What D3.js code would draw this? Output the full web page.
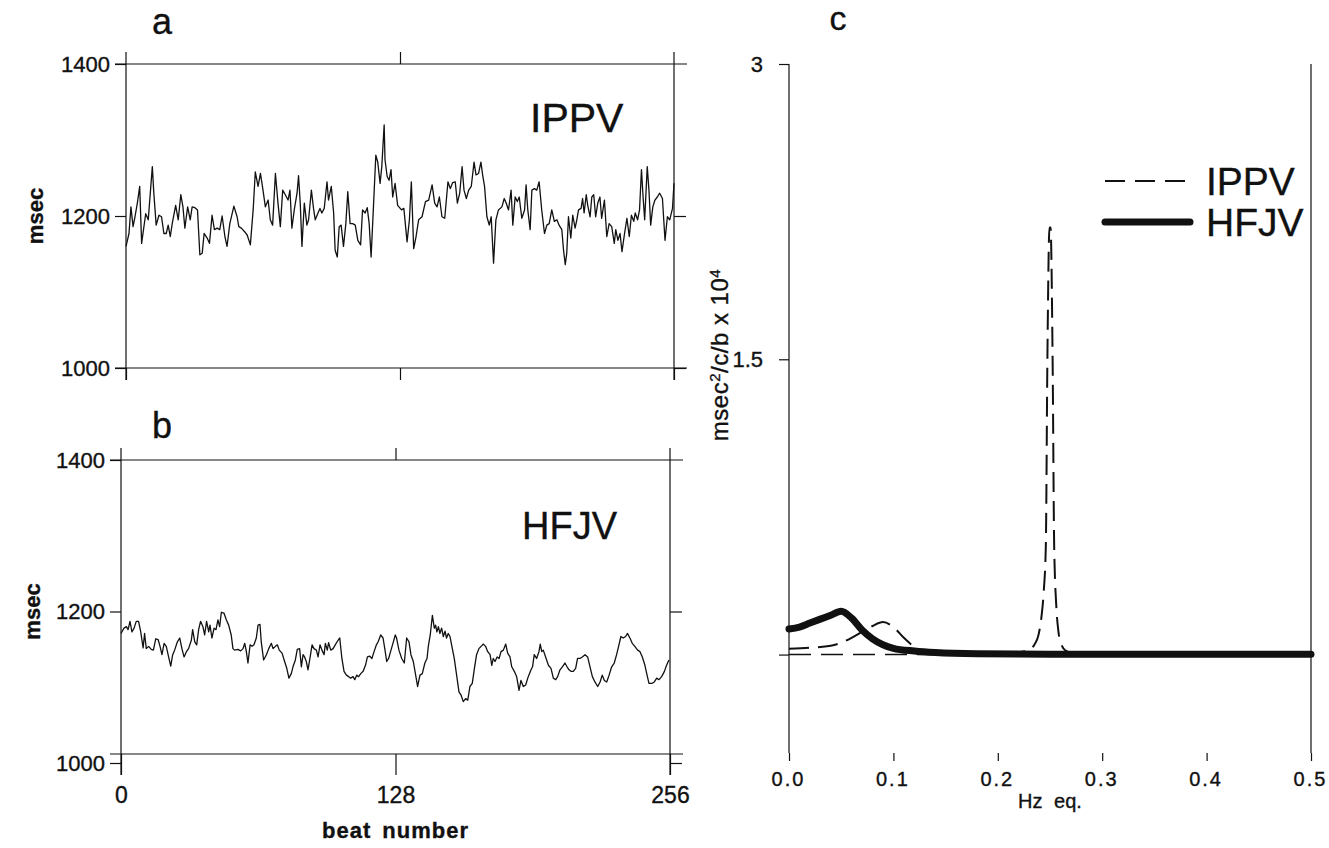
<!DOCTYPE html>
<html>
<head>
<meta charset="utf-8">
<script src="https://cdn.jsdelivr.net/npm/d3@7"></script>
<style>
  body { margin: 0; background: #fff; }
  svg text { font-family: "Liberation Sans", Arial, sans-serif; fill: #111; stroke: #111; stroke-width: 0.35px; }
</style>
</head>
<body>
<div id="chart"></div>
<script>
// beat-to-beat intervals (IPPV) and b (HFJV)
var ippvBeat = [0,1.4,2.3,3.3,4.2,5.3,6.4,7.3,9.2,10.4,12.3,13.0,14.1,15.4,16.6,17.7,18.8,19.7,20.7,21.6,23.2,24.4,25.6,26.6,27.5,28.8,30.0,30.9,32.2,33.4,34.5,35.6,36.5,37.9,39.0,40.2,41.3,42.6,43.8,44.9,46.2,47.2,48.5,50.4,51.9,52.7,53.9,55.5,56.6,58.1,59.4,60.4,61.7,62.8,63.9,65.1,66.4,67.4,68.5,69.8,71.0,72.1,73.2,74.4,75.7,76.6,77.5,78.6,79.9,80.6,81.4,82.2,83.3,84.5,85.3,86.6,87.6,88.4,89.7,90.6,91.5,92.6,93.9,94.6,95.9,97.0,97.7,98.7,99.6,100.5,101.6,102.7,103.6,104.7,105.9,107.1,108.3,109.6,110.5,111.7,112.7,113.6,114.5,115.6,116.7,117.6,118.7,119.5,120.6,121.0,122.0,122.9,123.8,124.6,125.7,126.9,128.7,129.8,131.3,132.4,133.3,134.4,135.5,136.7,138.3,139.9,141.4,143.0,144.2,145.3,146.4,147.6,148.9,150.4,151.5,152.6,153.8,154.8,155.9,157.0,157.9,159.0,160.1,161.3,162.6,163.5,164.7,165.8,166.6,167.5,168.6,169.7,170.6,171.7,172.8,174.0,175.6,176.7,177.6,178.7,179.9,180.7,181.8,182.8,183.7,184.9,186.2,186.9,187.7,188.8,189.6,190.8,191.9,193.0,194.2,195.5,196.6,197.7,198.9,200.1,201.3,202.3,203.6,204.4,205.2,205.9,206.7,207.8,208.7,209.8,210.6,211.4,212.6,213.3,214.0,215.0,215.7,216.8,217.6,218.5,219.4,220.4,221.4,222.2,223.5,224.6,225.7,226.9,228.1,228.8,229.8,230.8,231.7,232.9,234.0,235.1,236.1,237.2,237.9,239.0,239.9,240.8,241.6,242.3,243.5,244.3,245.1,246.1,247.1,248.2,249.3,250.6,251.8,252.9,254.0,255.3,256.0];
var ippvMsec = [1160,1177,1212,1186,1199,1217,1239,1164,1203,1195,1265,1230,1188,1201,1199,1177,1177,1188,1173,1190,1214,1195,1228,1212,1184,1212,1195,1212,1211,1208,1149,1151,1177,1171,1164,1201,1182,1184,1182,1200,1173,1160,1190,1213,1199,1186,1184,1179,1175,1162,1208,1258,1239,1256,1236,1212,1221,1195,1188,1256,1217,1186,1234,1228,1221,1234,1184,1208,1230,1253,1217,1160,1217,1188,1195,1234,1210,1195,1204,1210,1204,1210,1245,1221,1239,1204,1155,1146,1186,1188,1160,1190,1232,1190,1190,1188,1168,1162,1208,1204,1211,1190,1146,1212,1280,1271,1243,1265,1320,1274,1252,1247,1261,1225,1243,1214,1208,1210,1166,1195,1245,1157,1173,1195,1199,1219,1221,1241,1217,1212,1225,1199,1197,1245,1236,1244,1245,1217,1230,1265,1234,1223,1234,1239,1271,1254,1256,1271,1254,1239,1199,1188,1199,1138,1195,1208,1212,1223,1217,1208,1234,1188,1225,1219,1225,1197,1208,1241,1208,1182,1234,1236,1234,1245,1208,1177,1188,1190,1208,1193,1195,1188,1182,1155,1136,1151,1199,1171,1201,1184,1195,1208,1210,1223,1204,1228,1214,1199,1225,1228,1199,1217,1225,1197,1221,1173,1190,1186,1164,1182,1168,1177,1153,1177,1197,1173,1201,1193,1204,1195,1208,1261,1223,1195,1265,1234,1188,1212,1221,1225,1230,1223,1168,1199,1195,1210,1243];

var hfjvBeat = [0,1.4,2.5,3.3,4.2,5.1,6.1,7.1,8.2,9.2,10.3,11.0,11.8,12.9,14.1,15.1,16.2,17.3,18.2,19.1,20.1,21.1,22.2,23.2,24.1,25.0,26.3,27.4,28.4,29.4,30.5,31.5,32.8,33.4,34.4,35.3,36.2,37.1,38.2,39.0,39.9,40.9,41.5,42.4,43.4,44.3,45.2,46.0,46.8,48.0,49.1,50.2,51.4,52.2,53.0,54.5,55.8,56.9,57.7,58.4,59.2,60.2,61.1,62.0,63.1,63.9,64.8,65.4,66.5,67.8,68.9,70.1,70.9,72.0,72.9,73.8,75.1,76.3,77.3,78.3,79.4,80.2,81.3,82.2,83.3,84.1,84.9,85.6,86.4,87.2,88.1,89.1,90.0,91.1,91.9,92.8,93.7,94.7,95.3,96.2,96.8,97.8,98.9,99.9,101.2,102.0,103.0,104.0,105.1,106.2,107.1,108.2,109.0,109.9,110.8,111.8,112.9,114.0,114.9,116.0,117.0,118.0,119.1,119.9,121.1,122.2,123.0,123.9,124.8,125.7,126.8,127.9,128.5,129.6,130.9,132.1,133.2,134.3,135.2,136.3,137.4,138.3,139.4,140.5,141.7,142.7,143.3,144.2,145.2,146.1,146.7,147.3,148.0,148.7,149.5,150.3,151.1,151.8,152.6,153.4,154.5,155.4,156.5,157.6,158.5,159.6,160.7,161.7,162.7,163.8,164.8,165.8,166.9,167.9,169.0,170.0,171.0,172.1,172.9,173.6,174.4,175.4,176.3,177.2,178.3,179.4,180.3,181.4,182.2,183.4,184.5,185.6,186.5,187.6,188.7,189.9,191.2,191.9,192.7,193.8,194.9,195.5,196.2,196.9,198.0,199.3,200.5,201.6,202.7,203.6,204.7,205.8,207.0,208.0,208.9,209.8,210.9,212.0,212.9,214.0,215.1,216.4,217.6,218.7,219.8,221.0,222.3,223.4,224.4,225.4,226.5,227.6,228.8,230.0,231.1,232.2,233.1,234.2,235.3,236.2,237.3,238.4,239.6,240.9,242.0,243.1,244.3,245.3,246.2,247.5,248.7,249.8,250.9,252.1,253.4,254.4,255.5];
var hfjvMsec = [1171,1178,1180,1176,1187,1173,1178,1187,1187,1173,1152,1171,1151,1154,1150,1149,1164,1163,1154,1143,1158,1154,1140,1128,1143,1149,1160,1165,1151,1140,1147,1151,1162,1176,1160,1156,1176,1187,1180,1169,1187,1173,1182,1165,1178,1176,1189,1180,1199,1198,1189,1182,1169,1151,1149,1150,1148,1151,1158,1148,1132,1156,1154,1156,1165,1182,1183,1160,1136,1143,1151,1158,1151,1154,1156,1149,1145,1134,1125,1112,1118,1127,1136,1150,1151,1127,1143,1140,1134,1123,1138,1156,1151,1149,1140,1156,1149,1143,1158,1149,1159,1149,1151,1156,1162,1165,1138,1121,1116,1114,1112,1114,1110,1116,1114,1118,1121,1129,1140,1141,1138,1147,1156,1160,1169,1165,1151,1134,1138,1147,1158,1169,1165,1149,1138,1132,1165,1160,1143,1134,1116,1101,1116,1118,1132,1138,1154,1169,1195,1178,1182,1173,1180,1171,1178,1167,1174,1165,1171,1167,1151,1138,1116,1094,1090,1081,1085,1083,1101,1105,1125,1143,1151,1154,1157,1154,1147,1143,1129,1138,1134,1140,1138,1147,1149,1157,1145,1140,1127,1121,1114,1096,1109,1101,1103,1114,1123,1127,1143,1138,1147,1157,1147,1149,1140,1129,1125,1112,1110,1114,1123,1127,1132,1127,1123,1121,1121,1125,1138,1138,1140,1143,1140,1127,1114,1107,1101,1107,1116,1109,1107,1116,1127,1132,1143,1156,1167,1165,1167,1171,1165,1158,1154,1149,1147,1140,1129,1116,1105,1105,1107,1112,1110,1114,1121,1129,1136];

// power spectra, panel c
var ippvHz  = [0,0.02,0.04,0.05,0.06,0.07,0.08,0.09,0.10,0.11,0.12,0.13,0.15,0.20,0.229,0.235,0.239,0.242,0.244,0.246,0.2475,0.2495,0.2505,0.2525,0.254,0.256,0.258,0.261,0.265,0.27,0.30,0.5];
var ippvPow = [0.03,0.035,0.045,0.06,0.085,0.115,0.145,0.165,0.14,0.085,0.04,0.018,0.008,0.004,0.02,0.05,0.1,0.2,0.32,0.55,1.5,2.17,2.17,1.5,0.55,0.25,0.12,0.05,0.02,0.01,0.004,0.002];
var hfjvHz  = [0,0.01,0.02,0.03,0.04,0.05,0.06,0.07,0.08,0.09,0.10,0.12,0.14,0.18,0.25,0.5];
var hfjvPow = [0.13,0.14,0.16,0.18,0.2,0.22,0.185,0.125,0.08,0.05,0.032,0.018,0.01,0.004,0.002,0.002];

var msecTicks = [1000, 1200, 1400];
var beatTicks = [0, 128, 256];
var hzTicks = [0, 0.1, 0.2, 0.3, 0.4, 0.5];
var powTicks = [0, 1.5, 3];

const width = 1329, height = 848;
const ink = "#111";

const svg = d3.select("#chart").append("svg")
    .attr("width", width)
    .attr("height", height);

function line(g, x1, y1, x2, y2, w) {
    return g.append("line")
        .attr("x1", x1).attr("y1", y1).attr("x2", x2).attr("y2", y2)
        .attr("stroke", ink).attr("stroke-width", w || 1.2);
}

function styleAxis(sel, size) {
    sel.select(".domain").remove();
    sel.selectAll(".tick line").attr("stroke", ink).attr("stroke-width", 1.2);
    sel.selectAll(".tick text")
        .attr("fill", ink)
        .style("font-size", size + "px")
        .style("font-family", "'Liberation Sans', Arial, sans-serif");
}

// draw one time-series panel
function timePanel(opt) {
    const g = svg.append("g");
    const x = d3.scaleLinear().domain([0, 256]).range([opt.left, opt.right]);
    const y = d3.scaleLinear().domain([1000, 1400]).range([opt.bottom, opt.top]);

    // frame
    line(g, opt.left - 11, y(1400), opt.right + 13, y(1400));
    line(g, opt.left - 11, opt.frameBottom, opt.right + 13, opt.frameBottom);
    line(g, opt.left, y(1400) - 12, opt.left, opt.bottom + 12);
    line(g, opt.right, y(1400) - 12, opt.right, opt.bottom + 12);

    g.append("g").attr("transform", `translate(${opt.left},0)`)
        .call(d3.axisLeft(y).tickValues(msecTicks).tickSize(11).tickPadding(5).tickFormat(d3.format("d")))
        .call(s => styleAxis(s, 22));
    g.append("g").attr("transform", `translate(${opt.right},0)`)
        .call(d3.axisRight(y).tickValues([1200, 1000]).tickSize(12).tickFormat(""))
        .call(s => styleAxis(s, 22));
    g.append("g").attr("transform", `translate(0,${y(1400)})`)
        .call(d3.axisTop(x).tickValues([128]).tickSize(12).tickFormat(""))
        .call(s => styleAxis(s, 22));
    g.append("g").attr("transform", `translate(0,${opt.frameBottom})`)
        .call(d3.axisBottom(x).tickValues(beatTicks).tickSize(opt.bottom + 12 - opt.frameBottom)
            .tickPadding(opt.showX ? 12 : 0).tickFormat(opt.showX ? d3.format("d") : ""))
        .call(s => styleAxis(s, 23));

    const path = d3.line().x(d => x(d[0])).y(d => y(d[1]));
    g.append("path")
        .datum(opt.beats.map((b, i) => [b, opt.values[i]]))
        .attr("d", path)
        .attr("fill", "none")
        .attr("stroke", ink)
        .attr("stroke-width", 1.3)
        .attr("stroke-linejoin", "round");

    g.append("text").attr("x", opt.letterX).attr("y", opt.letterY)
        .style("font-size", "36px").text(opt.letter);
    g.append("text").attr("x", opt.labelX).attr("y", opt.labelY)
        .style("font-size", opt.labelSize + "px").text(opt.label);
    g.append("text")
        .attr("transform", `translate(${opt.msecX},${y(1200)}) rotate(-90)`)
        .attr("text-anchor", "middle")
        .style("font-size", "22px").style("font-weight", "bold")
        .text("msec");
    return x;
}

timePanel({left: 126, right: 674, top: 64, bottom: 368, frameBottom: 368,
    beats: ippvBeat, values: ippvMsec, letter: "a", letterX: 152, letterY: 34,
    label: "IPPV", labelX: 530, labelY: 132, labelSize: 41, msecX: 43, showX: false});

const xB = timePanel({left: 121, right: 670, top: 460, bottom: 763, frameBottom: 754,
    beats: hfjvBeat, values: hfjvMsec, letter: "b", letterX: 152, letterY: 438,
    label: "HFJV", labelX: 522, labelY: 539, labelSize: 38, msecX: 40, showX: true});

svg.append("text").attr("x", xB(128)).attr("y", 838)
    .attr("text-anchor", "middle")
    .style("font-size", "22px").style("font-weight", "bold").style("letter-spacing", "1px")
    .style("word-spacing", "4px")
    .text("beat number");

// spectrum panel
const gc = svg.append("g");
const xC = d3.scaleLinear().domain([0, 0.5]).range([789, 1311]);
const yC = d3.scaleLinear().domain([-0.5, 3]).range([753, 64]);

line(gc, xC(0), yC(3), xC(0), yC(-0.5));
line(gc, xC(0.5), yC(3), xC(0.5), yC(-0.5));

gc.append("g").attr("transform", `translate(${xC(0)},0)`)
    .call(d3.axisLeft(yC).tickValues(powTicks).tickSize(10).tickPadding(16)
        .tickFormat(d => d === 0 ? "" : String(d)))
    .call(s => styleAxis(s, 22));
gc.append("g").attr("transform", `translate(0,${yC(-0.5)})`)
    .call(d3.axisBottom(xC).tickValues(hzTicks).tickSize(8).tickPadding(11).tickFormat(d3.format(".1f")))
    .call(s => styleAxis(s, 20))
    .call(s => s.selectAll(".tick text").style("letter-spacing", "2px").attr("dx", "-1"));

// dashed zero reference
gc.append("line")
    .attr("x1", xC(0)).attr("x2", xC(0.5)).attr("y1", yC(0)).attr("y2", yC(0))
    .attr("stroke", ink).attr("stroke-width", 1.6).attr("stroke-dasharray", "22,10");

const specLine = d3.line().x(d => xC(d[0])).y(d => yC(d[1])).curve(d3.curveMonotoneX);

gc.append("path")
    .datum(ippvHz.map((h, i) => [h, ippvPow[i]]))
    .attr("d", specLine)
    .attr("fill", "none").attr("stroke", ink).attr("stroke-width", 2)
    .attr("stroke-dasharray", "20,9");

gc.append("path")
    .datum(hfjvHz.map((h, i) => [h, hfjvPow[i]]))
    .attr("d", specLine)
    .attr("fill", "none").attr("stroke", ink).attr("stroke-width", 7)
    .attr("stroke-linecap", "round");

// legend
line(gc, 1105, 181, 1190, 181, 2).attr("stroke-dasharray", "20,10");
gc.append("text").attr("x", 1206).attr("y", 195).style("font-size", "39px").text("IPPV");
line(gc, 1105, 222, 1190, 222, 7).attr("stroke-linecap", "round");
gc.append("text").attr("x", 1206).attr("y", 236).style("font-size", "39px").text("HFJV");

gc.append("text").attr("x", 838).attr("y", 30).attr("text-anchor", "middle")
    .style("font-size", "34px").text("c");

gc.append("text").attr("x", xC(0.25)).attr("y", 808).attr("text-anchor", "middle")
    .style("font-size", "20px").style("word-spacing", "6px").text("Hz eq.");

const yl = gc.append("text")
    .attr("transform", `translate(728,355) rotate(-90)`)
    .attr("text-anchor", "middle")
    .style("font-size", "24px").style("letter-spacing", "0.5px");
yl.append("tspan").text("msec");
yl.append("tspan").attr("baseline-shift", "super").style("font-size", "15px").text("2");
yl.append("tspan").text("/c/b x 10");
yl.append("tspan").attr("baseline-shift", "super").style("font-size", "15px").text("4");
</script>
</body>
</html>
